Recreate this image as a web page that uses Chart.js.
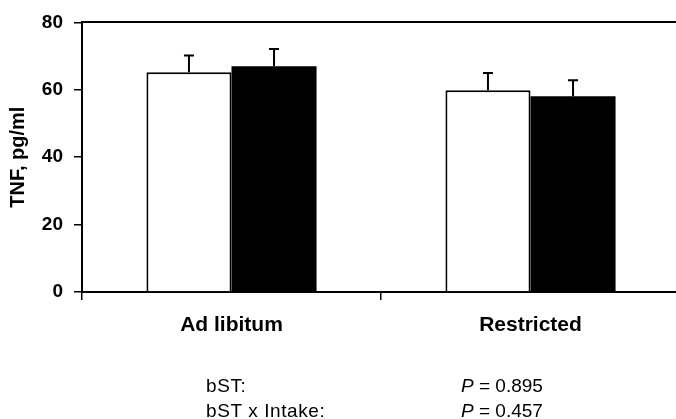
<!DOCTYPE html>
<html>
<head>
<meta charset="utf-8">
<script src="https://cdn.jsdelivr.net/npm/chart.js@4/dist/chart.umd.min.js"></script>
<style>
  html, body { margin: 0; padding: 0; background: #fff; overflow: hidden; }
  #outer { position: relative; width: 676px; height: 419px; overflow: hidden; }
  #wrap { position: absolute; left: 0; top: 0; width: 690px; height: 419px; }
  .note { position: absolute; font-family: "Liberation Sans", Arial, sans-serif; font-size: 19px; line-height: 19px; color: #000; white-space: nowrap; }
  .lbl { letter-spacing: 0.6px; }
</style>
</head>
<body>
<div id="outer">
  <div id="wrap"><canvas id="barChart"></canvas></div>
  <div class="note lbl" style="left:206px; top:376px;">bST:</div>
  <div class="note lbl" style="left:206px; top:401px;">bST x Intake:</div>
  <div class="note" style="left:461px; top:376px;"><i>P</i> = 0.895</div>
  <div class="note" style="left:461px; top:401px;"><i>P</i> = 0.457</div>
</div>
<script>
const categories = ['Ad libitum', 'Restricted'];
const controlMeans = [65.2, 59.9];
const controlErr = [5.0, 5.1];
const bstMeans = [67.0, 58.1];
const bstErr = [5.1, 4.7];
const yTicks = [0, 20, 40, 60, 80];

const font = 'Liberation Sans, Arial, sans-serif';

// upward-only error bars with a small cap
const errorBars = {
  id: 'errorBars',
  afterDatasetsDraw(chart) {
    const ctx = chart.ctx;
    const yScale = chart.scales.y;
    chart.data.datasets.forEach((ds, i) => {
      const meta = chart.getDatasetMeta(i);
      meta.data.forEach((bar, j) => {
        const top = yScale.getPixelForValue(ds.data[j] + ds.errors[j]);
        ctx.save();
        ctx.strokeStyle = '#000';
        ctx.lineWidth = 2;
        ctx.beginPath();
        ctx.moveTo(bar.x, bar.y);
        ctx.lineTo(bar.x, top);
        ctx.moveTo(bar.x - 5, top);
        ctx.lineTo(bar.x + 5, top);
        ctx.stroke();
        ctx.restore();
      });
    });
  }
};

new Chart(document.getElementById('barChart'), {
  type: 'bar',
  data: {
    labels: categories,
    datasets: [
      { label: 'Control', data: controlMeans, errors: controlErr, backgroundColor: '#fff', borderColor: '#000', borderWidth: 2 },
      { label: 'bST', data: bstMeans, errors: bstErr, backgroundColor: '#000', borderWidth: 0 }
    ]
  },
  options: {
    responsive: true,
    maintainAspectRatio: false,
    animation: false,
    categoryPercentage: 0.569,
    barPercentage: 1,
    layout: { padding: { top: 22, right: 10, left: 0, bottom: 0 } },
    plugins: { legend: { display: false }, tooltip: { enabled: false } },
    scales: {
      x: {
        grid: { drawOnChartArea: false, tickLength: 8, color: '#000', lineWidth: 1.5, offset: true },
        border: { color: '#000', width: 2 },
        ticks: { color: '#000', padding: 13, font: { family: font, size: 21, weight: 'bold' } },
        afterFit(scale) { scale.height = 127; }
      },
      x2: {
        position: 'top',
        grid: { display: false },
        ticks: { display: false },
        border: { display: true, color: '#000', width: 2 },
        afterFit(scale) { scale.height = 0; }
      },
      y: {
        min: 0,
        max: 80,
        afterBuildTicks(scale) { scale.ticks = yTicks.map(v => ({ value: v })); },
        grid: { drawOnChartArea: false, tickLength: 8, color: '#000', lineWidth: 1.5 },
        border: { color: '#000', width: 2 },
        ticks: { color: '#000', padding: 11, font: { family: font, size: 19, weight: 'bold' } },
        title: { display: true, text: 'TNF, pg/ml', color: '#000', padding: { top: 6, bottom: 0 }, font: { family: font, size: 20, weight: 'bold' } },
        afterFit(scale) { scale.width = 82; }
      }
    }
  },
  plugins: [errorBars]
});
</script>
</body>
</html>
